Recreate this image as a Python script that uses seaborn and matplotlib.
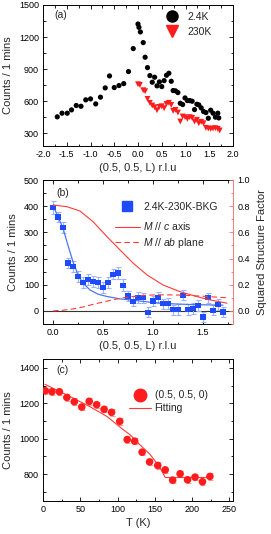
import numpy as np
import pandas as pd
import seaborn as sns
import matplotlib
matplotlib.use("Agg")
import matplotlib.pyplot as plt
from matplotlib.lines import Line2D
from matplotlib.ticker import MultipleLocator

# ---------------- data: panel (a) ----------------
a_black_L = [-1.70, -1.60, -1.49, -1.40, -1.30, -1.20, -1.10, -1.00, -0.89, -0.79, -0.69,
             -0.60, -0.50, -0.40, -0.30, -0.20, -0.10,
             0.00, 0.02, 0.05, 0.11, 0.15, 0.20, 0.25, 0.30, 0.35, 0.40, 0.45, 0.50, 0.55,
             0.60, 0.65, 0.70, 0.74, 0.79, 0.84, 0.89, 0.94, 0.99, 1.04, 1.09, 1.14, 1.19,
             1.24, 1.28, 1.33, 1.38, 1.43, 1.48, 1.53, 1.58, 1.63, 1.68, 1.70]
a_black_counts = [453, 487, 487, 518, 559, 552, 612, 621, 574, 637, 724,
                  836, 727, 746, 764, 877, 1092,
                  1322, 1291, 1248, 1148, 1011, 914, 839, 777, 824, 743, 780, 736, 792,
                  842, 861, 786, 699, 696, 680, 580, 568, 630, 605, 605, 599, 521,
                  571, 565, 537, 503, 493, 440, 515, 487, 450, 487, 443]
a_red_L = [0.00, 0.04, 0.11, 0.15, 0.20, 0.25, 0.30, 0.35, 0.40, 0.45, 0.50, 0.55, 0.60,
           0.65, 0.70, 0.74, 0.79, 0.84, 0.89, 0.94, 0.99, 1.04, 1.09, 1.14, 1.19, 1.24,
           1.28, 1.33, 1.38, 1.43, 1.48, 1.53, 1.58, 1.63, 1.68, 1.72]
a_red_counts = [758, 752, 702, 693, 621, 584, 559, 543, 515, 546, 552, 534, 574,
                584, 565, 509, 518, 493, 409, 456, 450, 434, 450, 443, 409, 425,
                393, 406, 393, 350, 344, 340, 344, 347, 340, 325]
a_labels = ["2.4K", "230K"]

# ---------------- data: panel (b) ----------------
b_L = [0.00, 0.05, 0.10, 0.15, 0.20, 0.25, 0.30, 0.35, 0.40, 0.45, 0.50, 0.55, 0.60, 0.65,
       0.70, 0.75, 0.80, 0.85, 0.90, 0.95, 1.00, 1.05, 1.10, 1.15, 1.20, 1.25, 1.30, 1.35,
       1.40, 1.45, 1.50, 1.55, 1.60, 1.65, 1.70]
b_counts = [396, 359, 319, 183, 170, 131, 109, 120, 112, 109, 90, 109, 140, 145,
            98, 57, 37, 51, 50, -5, 38, 51, 27, 28, 4, 6, 60, 5,
            9, 20, -23, 50, 3, 24, -4]
b_err = [24, 20, 20, 20, 20, 20, 20, 20, 20, 20, 20, 20, 20, 22,
         22, 20, 20, 20, 20, 20, 20, 20, 20, 20, 20, 20, 20, 20,
         20, 20, 20, 20, 20, 20, 20]
b_fit_L = [0.00, 0.05, 0.10, 0.15, 0.20, 0.25, 0.30, 0.37, 0.45, 0.54, 0.67, 0.80,
           1.00, 1.20, 1.40, 1.70]
b_fit_counts = [402, 360, 316, 250, 188, 137, 106, 80, 64, 55, 46, 41,
                32, 27, 24, 22]
b_c_L = [0.00, 0.14, 0.27, 0.40, 0.54, 0.67, 0.80, 0.94, 1.10, 1.27, 1.44, 1.57, 1.74]
b_c_sf = [0.809, 0.796, 0.763, 0.682, 0.567, 0.466, 0.366, 0.275, 0.198, 0.147, 0.109,
          0.084, 0.059]
b_ab_L = [0.00, 0.10, 0.20, 0.30, 0.40, 0.50, 0.60, 0.70, 0.80, 0.90, 1.00, 1.10, 1.20,
          1.30, 1.40, 1.50, 1.60, 1.75]
b_ab_sf = [0.000, 0.005, 0.015, 0.030, 0.050, 0.068, 0.085, 0.100, 0.110, 0.118, 0.122,
           0.123, 0.122, 0.120, 0.116, 0.112, 0.107, 0.100]
b_labels = ["2.4K-230K-BKG", r"$M$ // $c$ axis", r"$M$ // $ab$ plane"]

# ---------------- data: panel (c) ----------------
c_T = [3, 12, 22, 32, 42, 52, 62, 72, 82, 92, 103, 113, 123, 133, 143, 154, 164,
       174, 184, 194, 204, 214, 224]
c_counts = [1271, 1265, 1265, 1233, 1209, 1179, 1211, 1192, 1166, 1149, 1098, 995, 986,
            924, 869, 849, 824, 766, 802, 768, 783, 757, 787]
c_err = [18] * 23
c_fit_T = [2.7, 41, 63, 86, 108, 117, 130, 144, 157, 164, 223]
c_fit_counts = [1307, 1228, 1181, 1125, 1050, 1022, 966, 910, 837, 781, 781]
c_labels = ["(0.5, 0.5, 0)", "Fitting"]

# ---------------- style ----------------
sns.set_theme(style="ticks")
plt.rcParams["font.family"] = ["Liberation Sans", "DejaVu Sans"]
plt.rcParams["mathtext.fontset"] = "custom"
plt.rcParams["mathtext.it"] = "Liberation Sans:italic"
plt.rcParams["mathtext.rm"] = "Liberation Sans"
plt.rcParams["axes.linewidth"] = 0.7

TICK_FS = 6.5
LAB_FS = 8
LEG_FS = 7.5
BLUE = "#1f4bff"
BLUE_LIGHT = "#9db2ff"
BLUE_LINE = "#4b78ee"
RED = "#ff1c1c"
RED_LINE = "#ff3a3a"
RED_LIGHT = "#ff9a9a"

fig = plt.figure(figsize=(2.71, 5.34), dpi=100)
L, W = 43 / 271, 190 / 271
ax_a = fig.add_axes([L, 1 - 146 / 534, W, 141 / 534])
ax_b = fig.add_axes([L, 1 - 324 / 534, W, 144 / 534])
ax_c = fig.add_axes([L, 1 - 500.7 / 534, W, 141.7 / 534])


def style_ticks(ax, top=True, right=True):
    ax.tick_params(which="both", direction="in", top=top, right=right,
                   labelsize=TICK_FS, width=0.6, pad=3, colors="black")
    ax.tick_params(which="major", length=3)
    ax.tick_params(which="minor", length=1.8)
    for s in ax.spines.values():
        s.set_color("black")
        s.set_linewidth(0.7)


# ---------------- panel (a) ----------------
df_ab = pd.DataFrame({"L": a_black_L, "c": a_black_counts})
df_ar = pd.DataFrame({"L": a_red_L, "c": a_red_counts})
sns.scatterplot(data=df_ab, x="L", y="c", ax=ax_a, color="black", s=14,
                edgecolor="none", marker="o", legend=False, zorder=3)
sns.scatterplot(data=df_ar, x="L", y="c", ax=ax_a, color=RED, s=18,
                edgecolor="none", marker="v", legend=False, zorder=3)
ax_a.set_xlim(-2.0, 2.0)
ax_a.set_ylim(180, 1500)
ax_a.xaxis.set_major_locator(MultipleLocator(0.5))
ax_a.xaxis.set_minor_locator(MultipleLocator(0.25))
ax_a.yaxis.set_major_locator(MultipleLocator(300))
ax_a.yaxis.set_minor_locator(MultipleLocator(150))
ax_a.set_xticklabels([f"{v:.1f}" for v in ax_a.get_xticks()])
style_ticks(ax_a)
ax_a.set_xlabel("(0.5, 0.5, L) r.l.u", fontsize=LAB_FS, labelpad=3)
ax_a.set_ylabel("Counts / 1 mins", fontsize=LAB_FS, labelpad=4)
ax_a.text(0.06, 0.93, "(a)", transform=ax_a.transAxes, fontsize=LEG_FS, va="center")
h_a = [Line2D([], [], marker="o", color="black", ls="none", markersize=8),
       Line2D([], [], marker="v", color=RED, ls="none", markersize=8)]
ax_a.legend(h_a, a_labels, loc="upper left", bbox_to_anchor=(0.646, 0.95),
            frameon=False, fontsize=LEG_FS, handlelength=1.2, handletextpad=0.9,
            borderpad=0, labelspacing=0.45, borderaxespad=0)

# ---------------- panel (b) ----------------
df_b = pd.DataFrame({"L": b_L, "c": b_counts, "e": b_err})
ax_b.axhline(0, color="#333333", lw=0.8, zorder=1)
ax_b.errorbar(b_L, b_counts, yerr=b_err, fmt="none", ecolor=BLUE_LIGHT,
              elinewidth=0.8, capsize=1.8, capthick=0.8, zorder=2)
sns.lineplot(x=b_fit_L, y=b_fit_counts, ax=ax_b, color=BLUE_LINE, lw=0.9, zorder=3)
sns.scatterplot(data=df_b, x="L", y="c", ax=ax_b, color=BLUE, s=14, marker="s",
                edgecolor="none", legend=False, zorder=4)
ax_b.set_xlim(-0.1, 1.8)
ax_b.set_ylim(-50, 500)
ax_b.xaxis.set_major_locator(MultipleLocator(0.5))
ax_b.xaxis.set_minor_locator(MultipleLocator(0.25))
ax_b.yaxis.set_major_locator(MultipleLocator(100))
ax_b.yaxis.set_minor_locator(MultipleLocator(50))
ax_b.set_xticklabels([f"{v:.1f}" for v in ax_b.get_xticks()])
style_ticks(ax_b, top=True, right=False)
ax_b.set_xlabel("(0.5, 0.5, L) r.l.u", fontsize=LAB_FS, labelpad=3)
ax_b.set_ylabel("Counts / 1 mins", fontsize=LAB_FS, labelpad=4)
ax_b.text(0.07, 0.91, "(b)", transform=ax_b.transAxes, fontsize=LEG_FS, va="center")

ax_b2 = ax_b.twinx()
sns.lineplot(x=b_c_L, y=b_c_sf, ax=ax_b2, color=RED_LINE, lw=0.8)
sns.lineplot(x=b_ab_L, y=b_ab_sf, ax=ax_b2, color=RED_LINE, lw=0.8)
ax_b2.lines[-1].set_linestyle((0, (5, 3)))
ax_b2.set_ylim(-0.1, 1.0)
ax_b2.yaxis.set_major_locator(MultipleLocator(0.2))
ax_b2.yaxis.set_minor_locator(MultipleLocator(0.1))
ax_b2.tick_params(which="both", direction="in", labelsize=TICK_FS, width=0.6,
                  pad=3, colors="#ff7070", labelcolor="black")
ax_b2.tick_params(which="major", length=3)
ax_b2.tick_params(which="minor", length=1.8)
for s in ax_b2.spines.values():
    s.set_linewidth(0.7)
ax_b2.spines["right"].set_color("#ff8080")
ax_b2.spines["left"].set_visible(False)
ax_b2.spines["top"].set_visible(False)
ax_b2.spines["bottom"].set_visible(False)
ax_b2.set_ylabel("Squared Structure Factor", fontsize=LAB_FS, labelpad=5)
ax_b2.set_yticklabels([f"{v:.1f}" for v in ax_b2.get_yticks()])
ax_b2.set_ylim(-0.1, 1.0)

h_b1 = [Line2D([], [], marker="s", color=BLUE, ls="none", markersize=6.5)]
leg1 = ax_b2.legend(h_b1, b_labels[:1], loc="upper left", bbox_to_anchor=(0.41, 0.85),
                    frameon=False, fontsize=LEG_FS, handlelength=1.2, handletextpad=1.0,
                    borderpad=0, borderaxespad=0)
ax_b2.add_artist(leg1)
h_b2 = [Line2D([], [], color=RED_LINE, lw=0.8),
        Line2D([], [], color=RED_LINE, lw=0.8, ls=(0, (5, 3)))]
ax_b2.legend(h_b2, b_labels[1:], loc="upper left", bbox_to_anchor=(0.379, 0.72),
             frameon=False, fontsize=LEG_FS, handlelength=2.4, handletextpad=0.3,
             borderpad=0, labelspacing=0.35, borderaxespad=0)

# ---------------- panel (c) ----------------
df_c = pd.DataFrame({"T": c_T, "c": c_counts})
ax_c.errorbar(c_T, c_counts, yerr=c_err, fmt="none", ecolor=RED_LIGHT,
              elinewidth=0.8, capsize=1.8, capthick=0.8, zorder=2)
sns.lineplot(x=c_fit_T, y=c_fit_counts, ax=ax_c, color=RED_LINE, lw=0.8, zorder=3)
sns.scatterplot(data=df_c, x="T", y="c", ax=ax_c, color=RED, s=30, marker="o",
                edgecolor="none", legend=False, zorder=4)
ax_c.set_xlim(0, 255)
ax_c.set_ylim(650, 1450)
ax_c.xaxis.set_major_locator(MultipleLocator(50))
ax_c.xaxis.set_minor_locator(MultipleLocator(25))
ax_c.yaxis.set_major_locator(MultipleLocator(200))
ax_c.yaxis.set_minor_locator(MultipleLocator(100))
style_ticks(ax_c)
ax_c.set_xlabel("T (K)", fontsize=LAB_FS, labelpad=3)
ax_c.set_ylabel("Counts / 1 mins", fontsize=LAB_FS, labelpad=4)
ax_c.text(0.07, 0.92, "(c)", transform=ax_c.transAxes, fontsize=LEG_FS, va="center")
h_c = [Line2D([], [], marker="o", color=RED, ls="none", markersize=9),
       Line2D([], [], color=RED_LINE, lw=0.8)]
ax_c.legend(h_c, c_labels, loc="upper left", bbox_to_anchor=(0.45, 0.78),
            frameon=False, fontsize=LEG_FS, handlelength=2.2, handletextpad=0.3,
            borderpad=0, labelspacing=0.3, borderaxespad=0)

fig.savefig("out.png", dpi=100)
